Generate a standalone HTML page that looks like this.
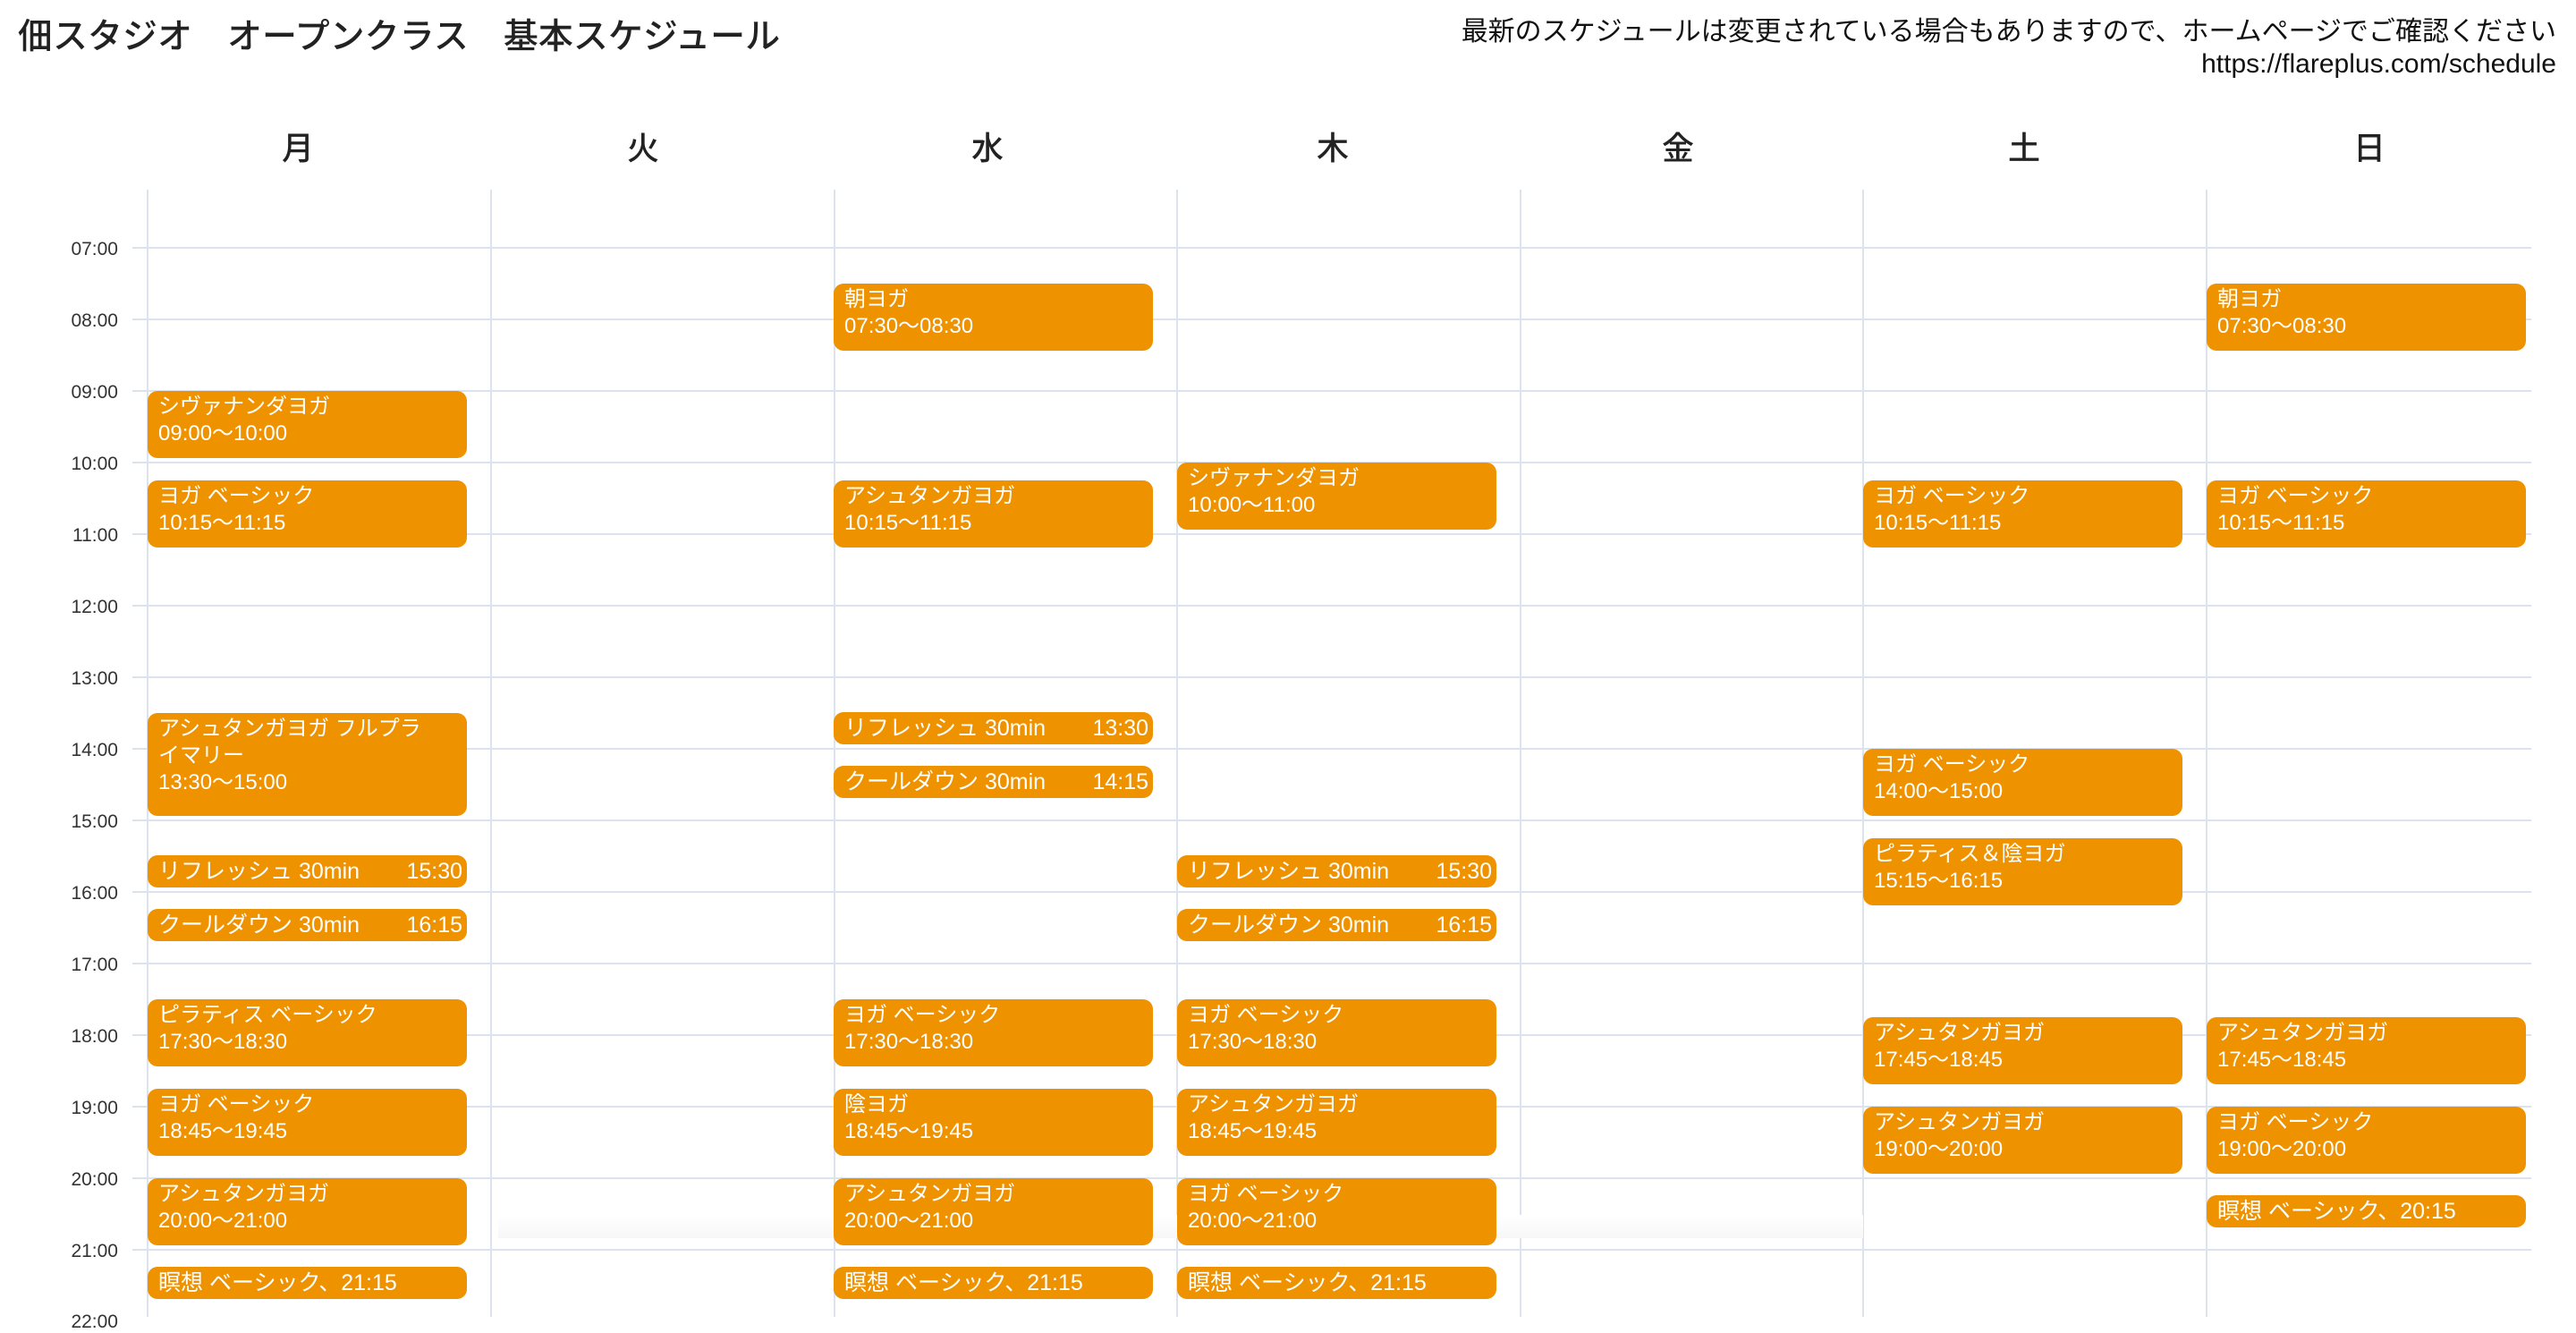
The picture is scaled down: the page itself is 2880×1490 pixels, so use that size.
<!DOCTYPE html>
<html><head><meta charset="utf-8"><style>
body{margin:0;width:2880px;height:1472px;background:#fff;position:relative;overflow:hidden;font-family:"Liberation Sans","Noto Sans CJK JP",sans-serif;}
.a{position:absolute}
.title{left:20px;top:12px;font-size:39px;font-weight:bold;color:#222;white-space:nowrap;font-family:"Noto Sans CJK JP",sans-serif;font-weight:500;line-height:52px}
.note{right:22px;top:18px;font-size:30px;line-height:36px;color:#111;text-align:right;white-space:nowrap}
.day{top:140px;width:200px;margin-left:-100px;text-align:center;font-size:36px;color:#222;line-height:46px;font-family:"Noto Sans CJK JP",sans-serif;font-weight:500}
.h{height:2px;background:#dde3ec;left:148px;width:2682px}
.v{width:2px;background:#dde3ec;top:212px;height:1260px}
.t{left:40px;width:92px;text-align:right;font-size:21px;color:#333;line-height:24px}
.e{background:#ef9200;border-radius:11px;color:#fff;font-size:24px;line-height:30px;padding:3px 0 0 12px;box-sizing:border-box;width:357px;white-space:nowrap;overflow:hidden}
.s{background:#ef9200;border-radius:11px;color:#fff;font-size:25px;line-height:36px;height:36px;padding:0 5px 0 12px;box-sizing:border-box;width:357px;display:flex;justify-content:space-between;white-space:nowrap}
</style></head><body>
<div class="a title">佃スタジオ　オープンクラス　基本スケジュール</div>
<div class="a note">最新のスケジュールは変更されている場合もありますので、ホームページでご確認ください<br>https://flareplus.com/schedule</div>

<div class="a day" style="left:333px">月</div>
<div class="a day" style="left:719px">火</div>
<div class="a day" style="left:1104px">水</div>
<div class="a day" style="left:1490px">木</div>
<div class="a day" style="left:1876px">金</div>
<div class="a day" style="left:2263px">土</div>
<div class="a day" style="left:2649px">日</div>

<div class="a h" style="top:276px"></div><div class="a h" style="top:356px"></div><div class="a h" style="top:436px"></div><div class="a h" style="top:516px"></div><div class="a h" style="top:596px"></div><div class="a h" style="top:676px"></div><div class="a h" style="top:756px"></div><div class="a h" style="top:836px"></div><div class="a h" style="top:916px"></div><div class="a h" style="top:996px"></div><div class="a h" style="top:1076px"></div><div class="a h" style="top:1156px"></div><div class="a h" style="top:1236px"></div><div class="a h" style="top:1316px"></div><div class="a h" style="top:1396px"></div>

<div class="a v" style="left:164px"></div><div class="a v" style="left:548px"></div><div class="a v" style="left:932px"></div><div class="a v" style="left:1315px"></div><div class="a v" style="left:1699px"></div><div class="a v" style="left:2082px"></div><div class="a v" style="left:2466px"></div>

<div class="a" style="left:557px;top:1358px;width:1526px;height:26px;background:linear-gradient(#fff,#f7f7f7)"></div>

<div class="a t" style="top:267px">07:00</div><div class="a t" style="top:347px">08:00</div><div class="a t" style="top:427px">09:00</div><div class="a t" style="top:507px">10:00</div><div class="a t" style="top:587px">11:00</div><div class="a t" style="top:667px">12:00</div><div class="a t" style="top:747px">13:00</div><div class="a t" style="top:827px">14:00</div><div class="a t" style="top:907px">15:00</div><div class="a t" style="top:987px">16:00</div><div class="a t" style="top:1067px">17:00</div><div class="a t" style="top:1147px">18:00</div><div class="a t" style="top:1227px">19:00</div><div class="a t" style="top:1307px">20:00</div><div class="a t" style="top:1387px">21:00</div><div class="a t" style="top:1466px">22:00</div>

<!-- Mon -->
<div class="a e" style="left:165px;top:437px;height:75px">シヴァナンダヨガ<br>09:00〜10:00</div>
<div class="a e" style="left:165px;top:537px;height:75px">ヨガ ベーシック<br>10:15〜11:15</div>
<div class="a e" style="left:165px;top:797px;height:115px">アシュタンガヨガ フルプラ<br>イマリー<br>13:30〜15:00</div>
<div class="a s" style="left:165px;top:956px"><span>リフレッシュ 30min</span><span>15:30</span></div>
<div class="a s" style="left:165px;top:1016px"><span>クールダウン 30min</span><span>16:15</span></div>
<div class="a e" style="left:165px;top:1117px;height:75px">ピラティス ベーシック<br>17:30〜18:30</div>
<div class="a e" style="left:165px;top:1217px;height:75px">ヨガ ベーシック<br>18:45〜19:45</div>
<div class="a e" style="left:165px;top:1317px;height:75px">アシュタンガヨガ<br>20:00〜21:00</div>
<div class="a s" style="left:165px;top:1416px"><span>瞑想 ベーシック、21:15</span></div>

<!-- Wed -->
<div class="a e" style="left:932px;top:317px;height:75px">朝ヨガ<br>07:30〜08:30</div>
<div class="a e" style="left:932px;top:537px;height:75px">アシュタンガヨガ<br>10:15〜11:15</div>
<div class="a s" style="left:932px;top:796px"><span>リフレッシュ 30min</span><span>13:30</span></div>
<div class="a s" style="left:932px;top:856px"><span>クールダウン 30min</span><span>14:15</span></div>
<div class="a e" style="left:932px;top:1117px;height:75px">ヨガ ベーシック<br>17:30〜18:30</div>
<div class="a e" style="left:932px;top:1217px;height:75px">陰ヨガ<br>18:45〜19:45</div>
<div class="a e" style="left:932px;top:1317px;height:75px">アシュタンガヨガ<br>20:00〜21:00</div>
<div class="a s" style="left:932px;top:1416px"><span>瞑想 ベーシック、21:15</span></div>

<!-- Thu -->
<div class="a e" style="left:1316px;top:517px;height:75px">シヴァナンダヨガ<br>10:00〜11:00</div>
<div class="a s" style="left:1316px;top:956px"><span>リフレッシュ 30min</span><span>15:30</span></div>
<div class="a s" style="left:1316px;top:1016px"><span>クールダウン 30min</span><span>16:15</span></div>
<div class="a e" style="left:1316px;top:1117px;height:75px">ヨガ ベーシック<br>17:30〜18:30</div>
<div class="a e" style="left:1316px;top:1217px;height:75px">アシュタンガヨガ<br>18:45〜19:45</div>
<div class="a e" style="left:1316px;top:1317px;height:75px">ヨガ ベーシック<br>20:00〜21:00</div>
<div class="a s" style="left:1316px;top:1416px"><span>瞑想 ベーシック、21:15</span></div>

<!-- Sat -->
<div class="a e" style="left:2083px;top:537px;height:75px">ヨガ ベーシック<br>10:15〜11:15</div>
<div class="a e" style="left:2083px;top:837px;height:75px">ヨガ ベーシック<br>14:00〜15:00</div>
<div class="a e" style="left:2083px;top:937px;height:75px">ピラティス＆陰ヨガ<br>15:15〜16:15</div>
<div class="a e" style="left:2083px;top:1137px;height:75px">アシュタンガヨガ<br>17:45〜18:45</div>
<div class="a e" style="left:2083px;top:1237px;height:75px">アシュタンガヨガ<br>19:00〜20:00</div>

<!-- Sun -->
<div class="a e" style="left:2467px;top:317px;height:75px">朝ヨガ<br>07:30〜08:30</div>
<div class="a e" style="left:2467px;top:537px;height:75px">ヨガ ベーシック<br>10:15〜11:15</div>
<div class="a e" style="left:2467px;top:1137px;height:75px">アシュタンガヨガ<br>17:45〜18:45</div>
<div class="a e" style="left:2467px;top:1237px;height:75px">ヨガ ベーシック<br>19:00〜20:00</div>
<div class="a s" style="left:2467px;top:1336px"><span>瞑想 ベーシック、20:15</span></div>
</body></html>
